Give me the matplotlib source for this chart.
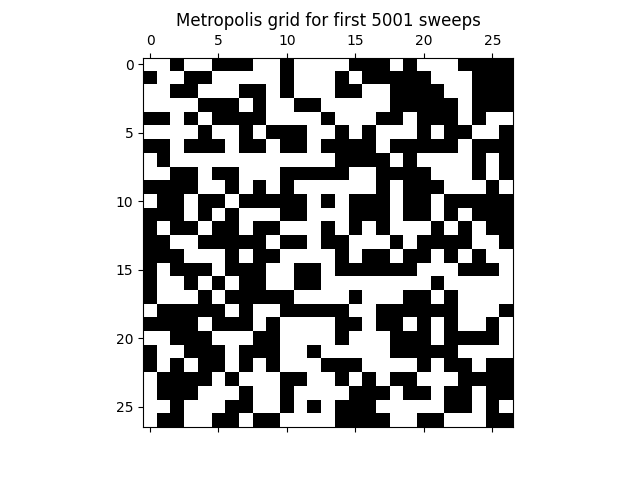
#! /usr/bin/env python3

"""
Draw the spin grid left after the Metropolis sweeps.
"""

import numpy as np
import matplotlib
matplotlib.use("Agg")
import matplotlib.pyplot as plt

# 1 = spin down (black), 0 = spin up (white)
row_00 = [0,0,1,0,0,1,1,1,0,0,1,0,0,0,0,1,1,1,0,1,0,0,0,1,1,1,1]
row_01 = [1,0,0,1,1,0,0,0,0,0,1,0,0,0,1,0,1,1,1,1,1,0,0,0,1,1,1]
row_02 = [0,0,1,1,0,0,0,1,1,0,1,0,0,0,1,1,0,0,1,1,1,1,0,0,1,1,1]
row_03 = [0,0,0,0,1,1,1,0,1,0,0,1,1,0,0,0,0,0,1,1,1,1,1,0,1,1,1]
row_04 = [1,1,0,1,0,1,1,1,1,0,0,0,0,1,0,0,0,1,1,0,1,1,1,0,1,0,0]
row_05 = [0,0,0,0,1,0,0,1,0,1,1,1,0,0,1,0,1,0,0,0,1,0,1,1,0,0,1]
row_06 = [1,1,0,1,1,1,0,1,1,0,1,1,0,1,1,1,1,0,1,1,1,1,1,0,1,1,1]
row_07 = [0,1,0,0,0,0,0,0,0,0,0,0,0,0,1,1,1,1,0,1,0,0,0,0,1,0,1]
row_08 = [0,0,1,1,0,1,1,0,0,0,1,1,1,1,1,0,0,1,1,1,1,0,0,0,1,0,1]
row_09 = [1,1,1,1,0,0,1,0,1,0,1,0,0,0,0,0,0,1,0,1,1,1,0,0,0,1,0]
row_10 = [0,1,1,0,1,1,0,1,1,1,1,1,0,1,0,1,1,1,0,1,1,0,1,1,1,1,1]
row_11 = [1,1,1,0,1,0,1,0,0,0,1,1,0,0,0,1,1,1,0,1,1,0,1,0,1,1,1]
row_12 = [1,0,1,1,0,1,1,0,1,1,0,0,0,1,0,1,0,1,0,0,0,1,0,1,0,1,1]
row_13 = [1,1,0,0,1,1,1,1,1,0,1,1,0,1,1,0,0,0,1,0,1,1,1,1,0,0,1]
row_14 = [1,1,1,0,0,0,1,0,1,1,0,0,0,0,1,0,1,1,0,1,1,0,1,0,1,0,0]
row_15 = [1,0,1,1,1,0,1,1,1,0,0,1,1,0,1,1,1,1,1,1,0,0,0,1,1,1,0]
row_16 = [1,0,0,1,0,1,0,1,1,0,0,1,1,0,0,0,0,0,0,0,0,1,0,0,0,0,0]
row_17 = [1,0,0,0,1,0,1,1,1,1,1,0,0,0,0,1,0,0,0,1,1,0,1,0,0,0,0]
row_18 = [0,1,1,1,1,1,0,1,0,0,1,1,1,1,1,0,0,1,1,1,1,1,1,0,0,0,1]
row_19 = [1,1,1,1,0,1,1,1,0,1,0,0,0,0,1,1,0,1,1,0,1,0,1,0,0,1,0]
row_20 = [0,0,1,1,1,0,0,0,1,1,0,0,0,0,1,0,0,0,1,1,1,0,1,1,1,1,0]
row_21 = [1,0,0,1,1,1,0,1,1,1,0,0,1,0,0,0,0,0,1,1,1,1,1,0,0,0,0]
row_22 = [1,0,1,0,1,1,0,1,0,1,0,0,0,1,1,1,0,0,0,0,1,0,1,1,0,1,1]
row_23 = [0,1,1,1,1,0,1,0,0,0,1,1,0,0,1,0,1,0,1,1,0,0,0,1,1,1,1]
row_24 = [0,1,1,1,0,0,0,1,0,0,1,0,0,0,0,1,1,1,0,1,1,0,1,1,0,1,1]
row_25 = [0,0,1,0,0,0,1,1,0,0,1,0,1,0,1,1,1,0,0,0,0,0,1,1,0,1,0]
row_26 = [0,1,1,0,0,1,1,0,1,1,0,0,0,0,1,1,1,1,0,0,1,1,0,0,0,1,1]

n_sweeps = 5001


def main():
    grid = np.array([
        row_00, row_01, row_02, row_03, row_04, row_05, row_06,
        row_07, row_08, row_09, row_10, row_11, row_12, row_13,
        row_14, row_15, row_16, row_17, row_18, row_19, row_20,
        row_21, row_22, row_23, row_24, row_25, row_26,
    ])

    fig, ax = plt.subplots(figsize=(6.4, 4.8), dpi=100)
    ax.matshow(grid, cmap="Greys", vmin=0, vmax=1)
    ax.set_title(f"Metropolis grid for first {n_sweeps} sweeps")

    fig.savefig("out.png")
    plt.close(fig)


if __name__ == "__main__":
    main()
